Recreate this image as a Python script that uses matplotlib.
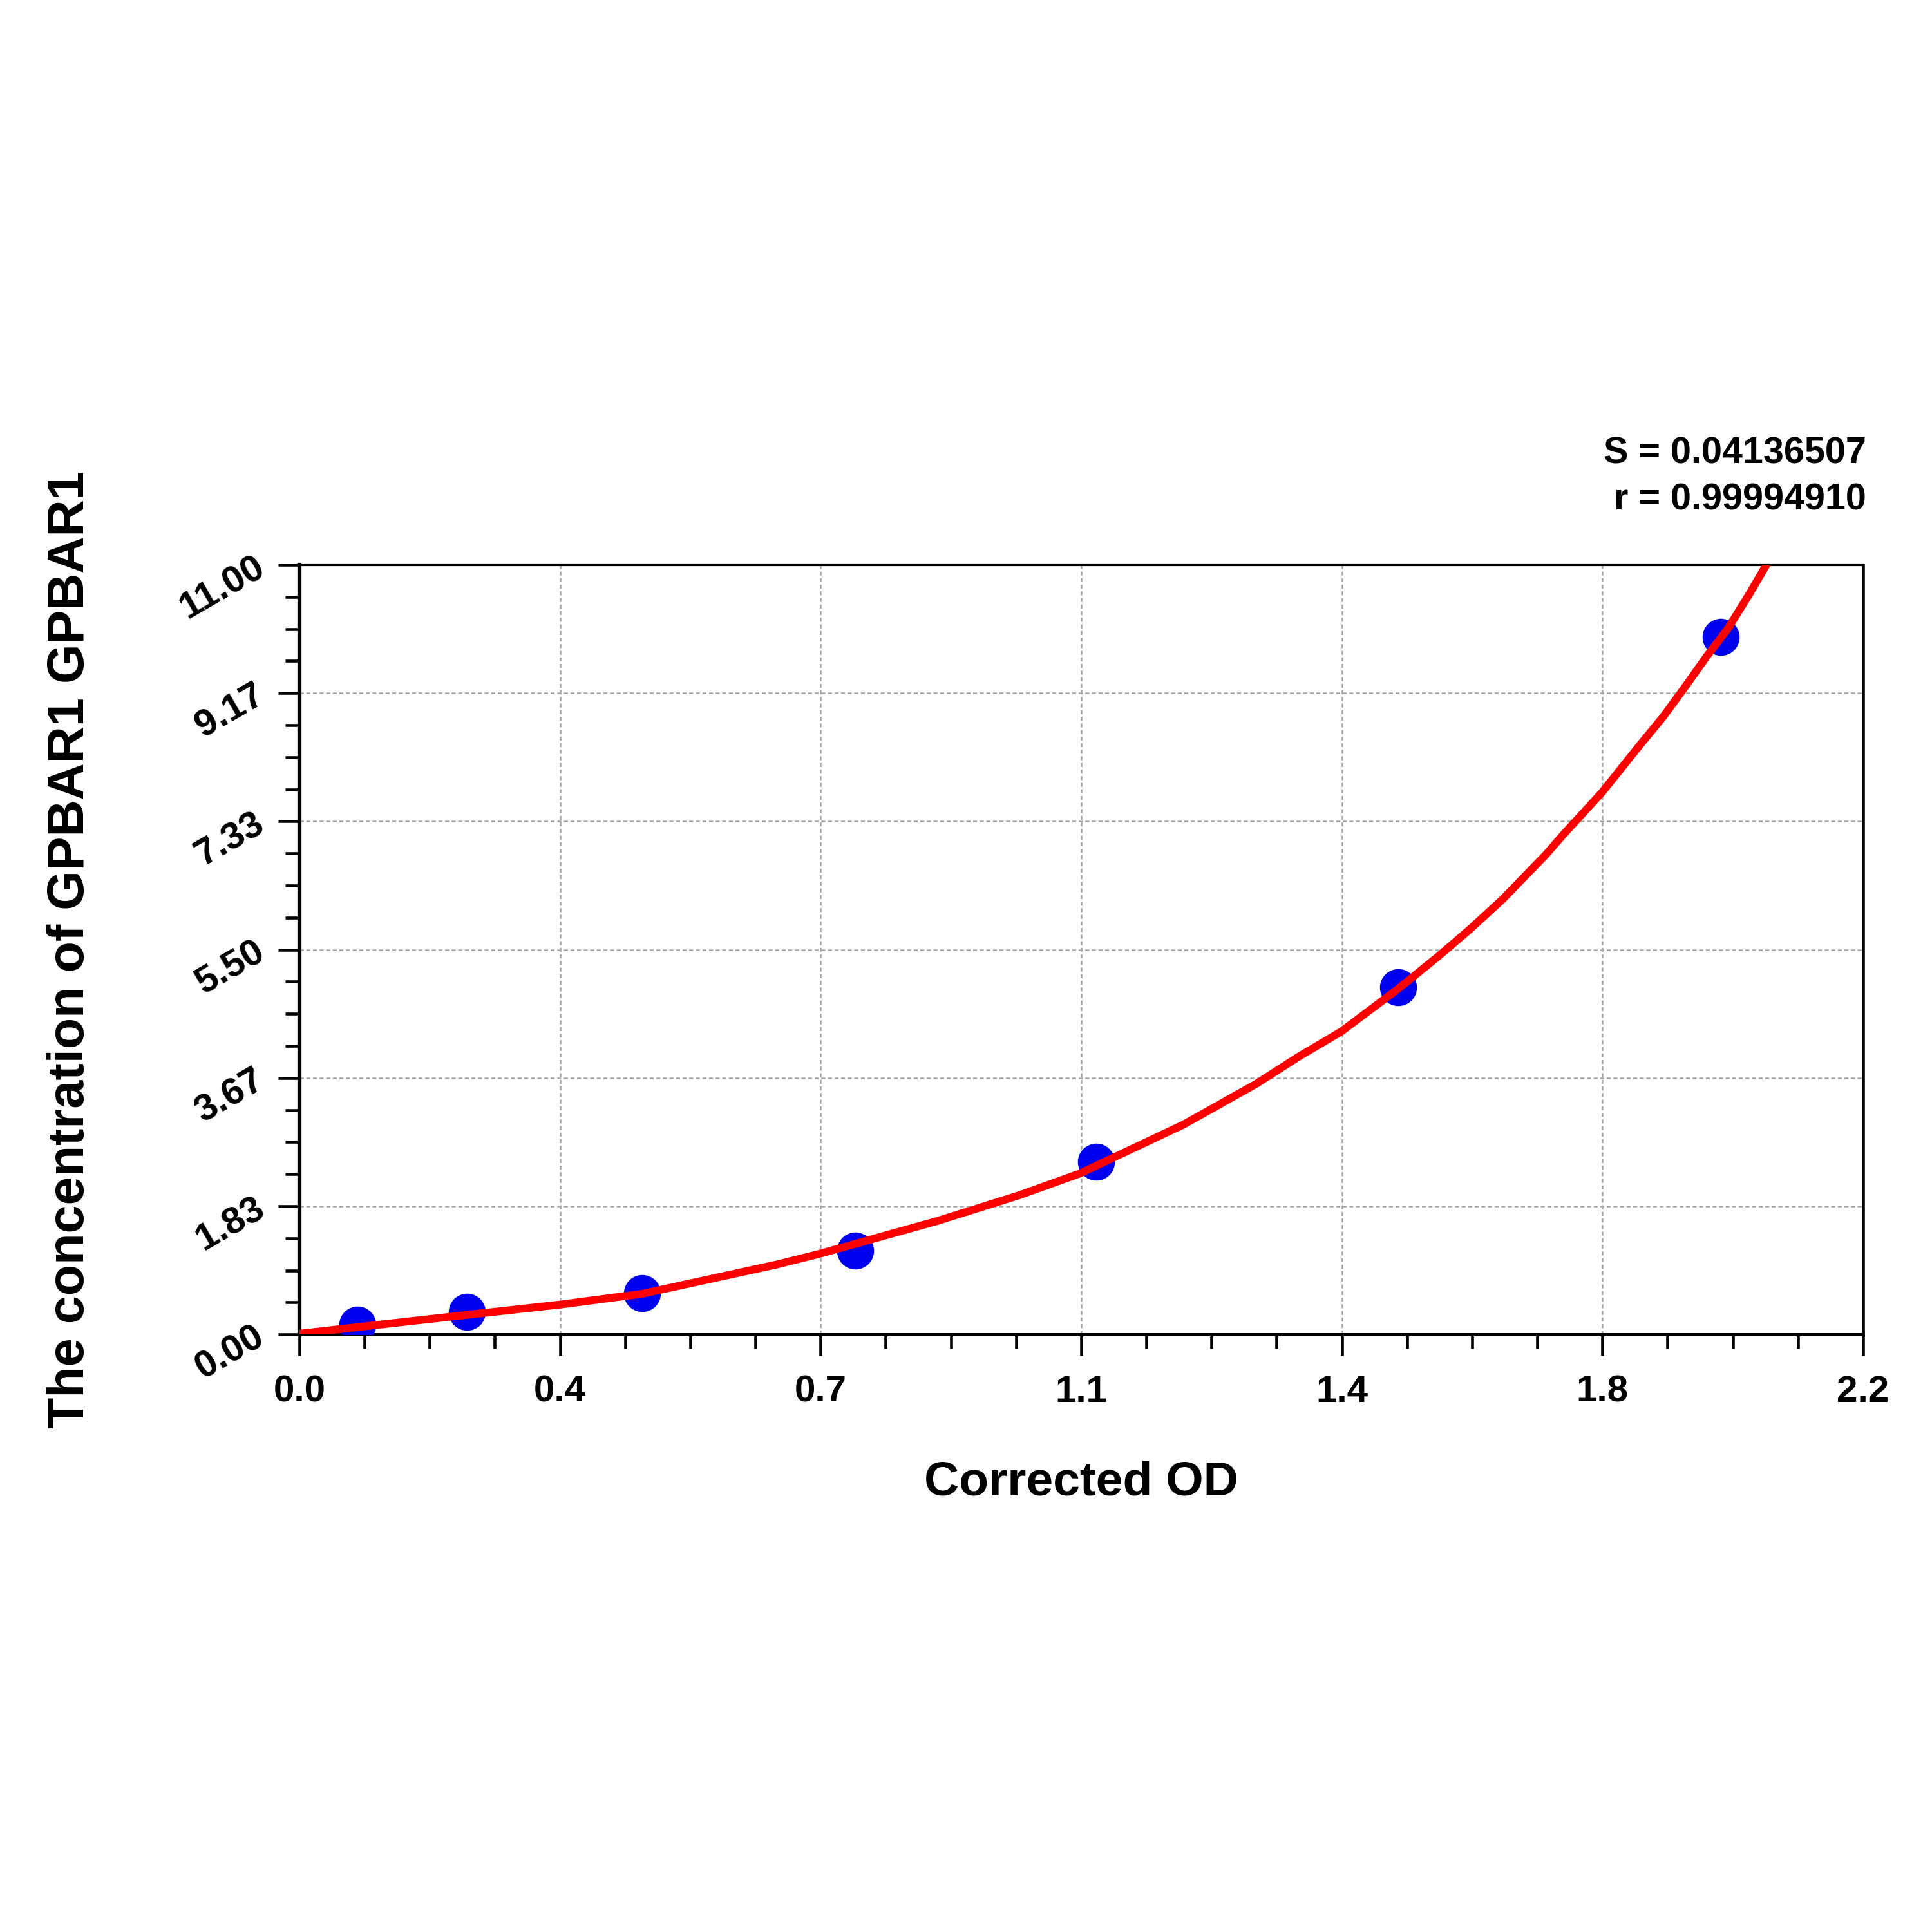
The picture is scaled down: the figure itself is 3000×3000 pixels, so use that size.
import numpy as np
import matplotlib
matplotlib.use('Agg')
import matplotlib.pyplot as plt
from matplotlib.ticker import FixedLocator, MultipleLocator

plt.rcParams['font.family'] = ['Liberation Sans', 'DejaVu Sans']
plt.rcParams['font.weight'] = 'bold'

# standard points
od = [0.082, 0.236, 0.482, 0.782, 1.121, 1.546, 2.000]
conc = [0.14, 0.32, 0.59, 1.20, 2.47, 4.96, 9.97]

# fitted curve
fit_od = [0.0, 0.082, 0.236, 0.367, 0.482, 0.672, 0.731, 0.897, 1.013, 1.098,
          1.244, 1.346, 1.406, 1.466, 1.512, 1.546, 1.602, 1.648, 1.693, 1.754,
          1.778, 1.833, 1.859, 1.889, 1.919, 1.950, 1.980, 2.010, 2.040, 2.067]
fit_conc = [0.01, 0.105, 0.28, 0.427, 0.58, 1.00, 1.15, 1.62, 1.99, 2.30,
            3.00, 3.58, 3.97, 4.33, 4.68, 4.94, 5.40, 5.80, 6.22, 6.86,
            7.14, 7.75, 8.08, 8.46, 8.83, 9.26, 9.69, 10.09, 10.58, 11.05]

x_ticks = np.linspace(0, 2.2, 7)
x_labels = ['0.0', '0.4', '0.7', '1.1', '1.4', '1.8', '2.2']
y_ticks = np.linspace(0, 11, 7)
y_labels = ['0.00', '1.83', '3.67', '5.50', '7.33', '9.17', '11.00']

stats = ['S = 0.04136507', 'r = 0.99994910']

fig = plt.figure(figsize=(10, 10), dpi=300)
ax = fig.add_axes([0.155, 0.3093, 0.8093, 0.3984])

ax.plot(od, conc, 'o', color='#0000f0', markersize=12.8, zorder=3)
ax.plot(fit_od, fit_conc, '-', color='#ff0000', lw=2.9, zorder=4,
        solid_joinstyle='round')

ax.set_xlim(0, 2.2)
ax.set_ylim(0, 11)

ax.xaxis.set_major_locator(FixedLocator(x_ticks))
ax.xaxis.set_minor_locator(MultipleLocator(2.2 / 24))
ax.yaxis.set_major_locator(FixedLocator(y_ticks))
ax.yaxis.set_minor_locator(MultipleLocator(11 / 24))
ax.set_xticklabels(x_labels, fontsize=14, fontweight='bold')
ax.set_yticklabels(y_labels, fontsize=14, fontweight='bold', rotation=30,
                   ha='right', va='center', rotation_mode='anchor')

ax.tick_params(which='both', direction='out', width=1.1, top=False, right=False)
ax.tick_params(which='major', length=8)
ax.tick_params(which='minor', length=5.3)
ax.tick_params(axis='x', which='major', pad=7)
ax.tick_params(axis='y', which='major', pad=6)

ax.spines['left'].set_linewidth(1.5)
ax.spines['bottom'].set_linewidth(1.2)
ax.spines['top'].set_linewidth(1.0)
ax.spines['right'].set_linewidth(1.1)

ax.grid(True, which='major', color='#a8a8a8', linestyle=(0, (2.5, 1.6)), lw=0.6)
ax.set_axisbelow(True)

ax.set_xlabel('Corrected OD', fontsize=18, fontweight='bold')
ax.xaxis.set_label_coords(0.5, -0.192)
ax.xaxis.label.set_va('center')
ax.set_ylabel('The concentration of GPBAR1 GPBAR1', fontsize=19, fontweight='bold')
ax.yaxis.set_label_coords(-0.1466, 0.5)
ax.yaxis.label.set_va('center')

fig.text(0.966, 0.7653, stats[0], ha='right', va='center', fontsize=13.8,
         fontweight='bold')
fig.text(0.966, 0.741, stats[1], ha='right', va='center', fontsize=13.8,
         fontweight='bold')

fig.savefig('out.png', dpi=300, facecolor='white')
